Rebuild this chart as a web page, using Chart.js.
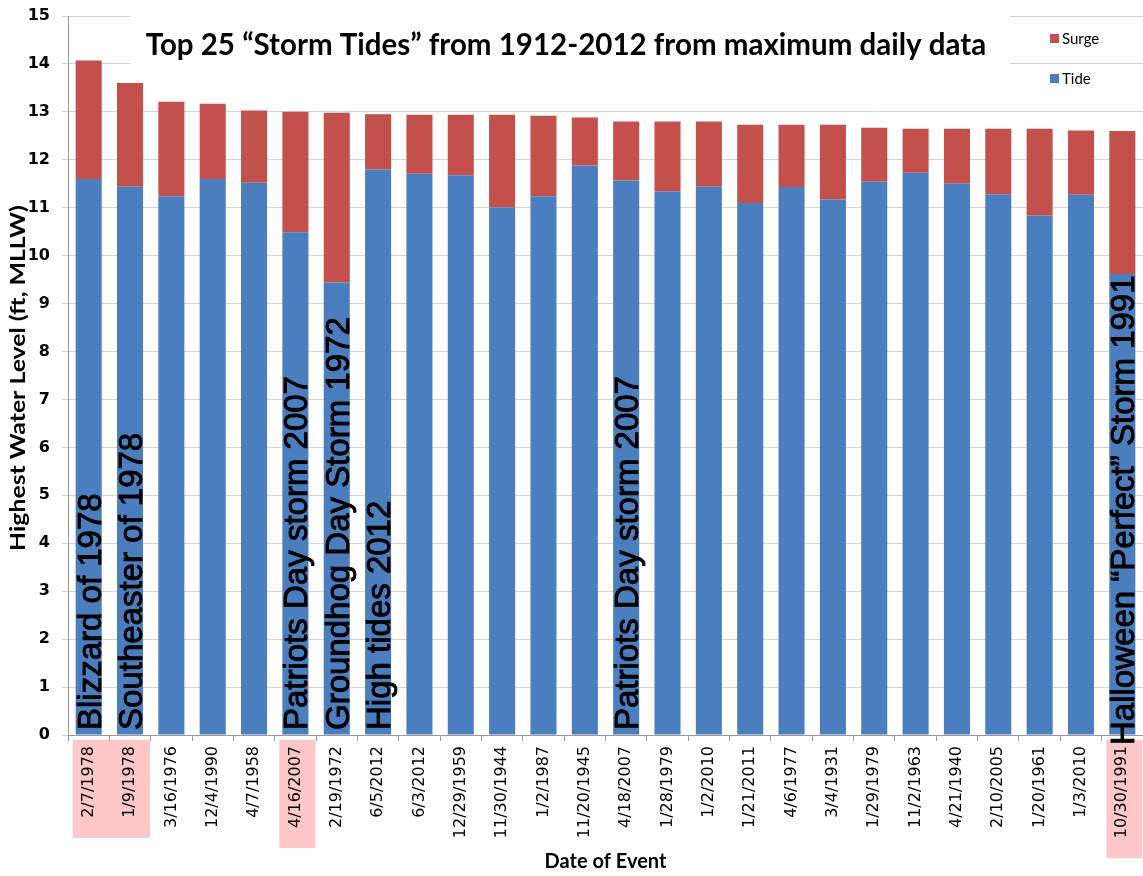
<!DOCTYPE html>
<html>
<head>
<meta charset="utf-8">
<script src="https://cdn.jsdelivr.net/npm/chart.js@4.4.1/dist/chart.umd.min.js"></script>
<style>
  html, body { margin: 0; padding: 0; background: #fff; }
  #wrap { width: 1143px; height: 876px; }
</style>
</head>
<body>
<div id="wrap"><canvas id="chart" width="1143" height="876"></canvas></div>
<script>
// values (feet above MLLW)
const eventDates = ['2/7/1978', '1/9/1978', '3/16/1976', '12/4/1990', '4/7/1958', '4/16/2007',
    '2/19/1972', '6/5/2012', '6/3/2012', '12/29/1959', '11/30/1944', '1/2/1987', '11/20/1945',
    '4/18/2007', '1/28/1979', '1/2/2010', '1/21/2011', '4/6/1977', '3/4/1931', '1/29/1979',
    '11/2/1963', '4/21/1940', '2/10/2005', '1/20/1961', '1/3/2010', '10/30/1991'];
const tideLevels = [11.60, 11.44, 11.24, 11.60, 11.52, 10.49, 9.44, 11.80, 11.71, 11.68, 11.01, 11.24, 11.88,
    11.57, 11.34, 11.44, 11.10, 11.43, 11.17, 11.54, 11.73, 11.50, 11.28, 10.84, 11.27, 9.62];
const surgeLevels = [2.47, 2.16, 1.97, 1.57, 1.51, 2.51, 3.54, 1.15, 1.23, 1.26, 1.93, 1.68, 1.00,
    1.23, 1.46, 1.36, 1.63, 1.30, 1.56, 1.13, 0.92, 1.15, 1.37, 1.81, 1.34, 2.98];
const yMin = 0;
const yMax = 15;
const yStep = 1;

// named storms written up the bars
const stormIndex = [0, 1, 5, 6, 7, 13, 25];
const stormNames = ['Blizzard of 1978', 'Southeaster of 1978', 'Patriots Day storm 2007',
    'Groundhog Day Storm 1972', 'High tides 2012', 'Patriots Day storm 2007',
    'Halloween \u201cPerfect\u201d Storm 1991'];
// date labels shaded pink (first index, last index)
const highlightGroups = [[0, 1], [5, 5], [25, 25]];

const chartTitle = 'Top 25 \u201cStorm Tides\u201d from 1912-2012 from maximum daily data';
const yTitle = 'Highest Water Level (ft, MLLW)';

const tideColor = '#4A7EBF';
const surgeColor = '#C4504C';
const tickFont = '16px "DejaVu Sans"';

const overlays = {
    id: 'overlays',
    beforeDraw(chart) {
        const ctx = chart.ctx;
        const x = chart.scales.x;
        ctx.save();
        ctx.font = tickFont;
        ctx.fillStyle = '#FFC7C7';
        highlightGroups.forEach(g => {
            let longest = 0;
            for (let i = g[0]; i <= g[1]; i++) {
                longest = Math.max(longest, ctx.measureText(eventDates[i]).width);
            }
            const left = x.getPixelForValue(g[0]) - 16;
            const right = x.getPixelForValue(g[1]) + 20;
            const top = x.top + 5;
            ctx.fillRect(left, top, right - left, longest + 26);
        });
        ctx.restore();
    },
    beforeDatasetsDraw(chart) {
        // white box behind the title hides the upper grid lines
        const ctx = chart.ctx;
        ctx.save();
        ctx.fillStyle = '#fff';
        ctx.fillRect(131, 8, 879, 70);
        ctx.restore();
    },
    afterDraw(chart) {
        const ctx = chart.ctx;
        const y = chart.scales.y;
        const bars = chart.getDatasetMeta(0).data;
        ctx.save();
        ctx.fillStyle = '#000';
        ctx.strokeStyle = '#000';
        ctx.lineWidth = 0.9;
        ctx.font = '33px "Liberation Sans"';
        ctx.textAlign = 'left';
        ctx.textBaseline = 'alphabetic';
        stormIndex.forEach((idx, k) => {
            const bar = bars[idx];
            const bx = bar.x + bar.width / 2 - 1;
            const by = y.getPixelForValue(0) + (idx === eventDates.length - 1 ? 10 : -5);
            ctx.save();
            ctx.translate(bx, by);
            ctx.rotate(-Math.PI / 2);
            ctx.fillText(stormNames[k], 0, 0);
            ctx.strokeText(stormNames[k], 0, 0);
            ctx.restore();
        });

        // y axis title, stretched along its length like the original
        ctx.save();
        ctx.font = 'bold 20px Lato';
        ctx.textAlign = 'center';
        ctx.textBaseline = 'middle';
        ctx.translate(19, 378);
        ctx.rotate(-Math.PI / 2);
        ctx.scale(1.24, 1);
        ctx.fillText(yTitle, 0, 0);
        ctx.restore();

        // title
        ctx.font = 'bold 29.5px Lato';
        ctx.textAlign = 'center';
        ctx.textBaseline = 'middle';
        ctx.fillText(chartTitle, 566, 45);

        // legend
        ctx.font = '15px Lato';
        ctx.textAlign = 'left';
        const legendItems = [['Surge', surgeColor, 38], ['Tide', tideColor, 78]];
        legendItems.forEach(item => {
            ctx.fillStyle = item[1];
            ctx.fillRect(1050, item[2] - 4, 9, 9);
            ctx.fillStyle = '#000';
            ctx.fillText(item[0], 1062, item[2] + 1);
        });
        ctx.restore();
    }
};

const ctx = document.getElementById('chart').getContext('2d');
const chart = new Chart(ctx, {
    type: 'bar',
    data: {
        labels: eventDates,
        datasets: [
            { label: 'Tide', data: tideLevels, backgroundColor: tideColor, stack: 's' },
            { label: 'Surge', data: surgeLevels, backgroundColor: surgeColor, stack: 's' }
        ]
    },
    options: {
        responsive: false,
        animation: false,
        devicePixelRatio: 1,
        layout: { padding: { top: 16, left: 0, right: 0, bottom: 0 } },
        datasets: { bar: { categoryPercentage: 1, barPercentage: 0.63 } },
        plugins: {
            legend: { display: false },
            tooltip: { enabled: false }
        },
        scales: {
            x: {
                stacked: true,
                grid: { display: true, drawOnChartArea: false, tickLength: 6, color: '#999' },
                border: { color: '#999' },
                ticks: {
                    autoSkip: false, minRotation: 90, maxRotation: 90, padding: 5,
                    color: '#000', font: { family: 'DejaVu Sans', size: 16 }
                },
                title: {
                    display: true, text: 'Date of Event', color: '#000',
                    font: { family: 'Lato', size: 20, weight: 'bold' }, padding: { top: 0, bottom: 2 }
                },
                afterFit(scale) {
                    scale.height = 141;
                    scale.paddingLeft = 0;
                    scale.paddingRight = 0;
                }
            },
            y: {
                stacked: true,
                min: yMin,
                max: yMax,
                ticks: {
                    stepSize: yStep, padding: 12, color: '#000',
                    font: { family: 'DejaVu Sans', size: 16, weight: 'bold' }
                },
                grid: { color: '#D4D4D4', tickLength: 6 },
                border: { color: '#999' },
                afterFit(scale) {
                    scale.width = 68;
                    scale.paddingTop = 0;
                    scale.paddingBottom = 0;
                }
            }
        }
    },
    plugins: [overlays]
});
</script>
</body>
</html>
